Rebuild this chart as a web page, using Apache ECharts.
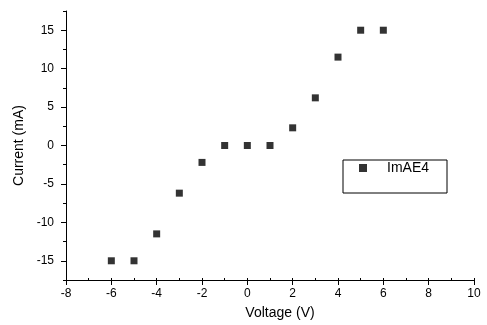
<!DOCTYPE html>
<html><head><meta charset="utf-8">
<script src="https://cdn.jsdelivr.net/npm/echarts@6/dist/echarts.min.js"></script>
<style>html,body{margin:0;padding:0;background:#fff}#c{width:487px;height:325px}</style>
</head><body><div id="c"></div>
<script>
const voltage = [-6, -5, -4, -3, -2, -1, 0, 1, 2, 3, 4, 5, 6];
const current = [-15, -15, -11.5, -6.2, -2.2, 0, 0, 0, 2.3, 6.2, 11.5, 15, 15];
const yMajorTicks = [-15, -10, -5, 0, 5, 10, 15];
const yMinorTicks = [-17.5, -12.5, -7.5, -2.5, 2.5, 7.5, 12.5, 17.5];
const seriesName = 'ImAE4';
const xTitle = 'Voltage (V)';
const yTitle = 'Current (mA)';

const font = 'Liberation Sans, Arial, sans-serif';
const chart = echarts.init(document.getElementById('c'), null, {renderer: 'canvas'});
const lbl = {fontFamily: font, fontSize: 12, color: '#000'};
chart.setOption({
  backgroundColor: '#fff',
  animation: false,
  grid: {left: 66, right: 13, top: 11, bottom: 43},
  legend: {
    left: 343, top: 160,
    orient: 'vertical',
    borderColor: '#000', borderWidth: 1, borderRadius: 0,
    padding: [1, 18, 18, 16],
    itemWidth: 8, itemHeight: 8,
    icon: 'rect',
    textStyle: {fontFamily: font, fontSize: 14, color: '#000', padding: [0, 0, 0, 15]},
    data: [seriesName]
  },
  xAxis: [{
    type: 'value', min: -8, max: 10, interval: 2,
    name: xTitle, nameLocation: 'middle', nameGap: 26,
    nameTextStyle: {fontFamily: font, fontSize: 14, color: '#000', padding: [0, 0, 0, 20]},
    axisLine: {show: true, onZero: false, lineStyle: {color: '#000', width: 1}},
    axisTick: {show: true, length: 5, lineStyle: {color: '#000'}},
    splitLine: {show: false},
    axisLabel: Object.assign({margin: 8}, lbl)
  }, {
    type: 'value', min: -8, max: 10, interval: 1, position: 'bottom',
    axisLine: {show: false, onZero: false},
    axisTick: {show: true, inside: true, length: 2, lineStyle: {color: '#000'}},
    axisLabel: {show: false}, splitLine: {show: false}
  }],
  yAxis: [{
    type: 'value', min: -17.5, max: 17.5, interval: 5,
    name: yTitle, nameLocation: 'middle', nameGap: 37,
    nameTextStyle: {fontFamily: font, fontSize: 14, color: '#000'},
    axisLine: {show: true, onZero: false, lineStyle: {color: '#000', width: 1}},
    axisTick: {show: true, length: 5, lineStyle: {color: '#000'}, customValues: yMajorTicks},
    splitLine: {show: false},
    axisLabel: Object.assign({margin: 12, customValues: yMajorTicks}, lbl)
  }, {
    type: 'value', min: -17.5, max: 17.5, interval: 5, position: 'left',
    axisLine: {show: false, onZero: false},
    axisTick: {show: true, length: 3, lineStyle: {color: '#000'}, customValues: yMinorTicks},
    axisLabel: {show: false}, splitLine: {show: false}
  }],
  series: [{
    name: seriesName,
    type: 'scatter',
    symbol: 'rect',
    symbolSize: 7,
    itemStyle: {color: '#000'},
    data: voltage.map((v, i) => [v, current[i]])
  }]
});
</script></body></html>
